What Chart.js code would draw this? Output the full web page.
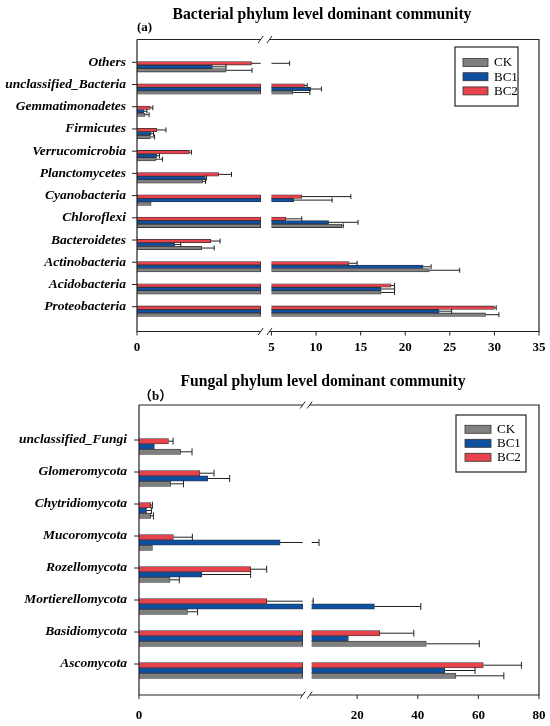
<!DOCTYPE html>
<html>
<head>
<meta charset="utf-8">
<script src="https://cdn.jsdelivr.net/npm/chart.js@4.4.1/dist/chart.umd.min.js"></script>
<style>
  html, body { margin: 0; padding: 0; background: #fff; overflow: hidden; }
  #wrap { position: relative; width: 550px; height: 726px; }
  .panel { position: absolute; left: 0; }
  canvas { display: block; }
</style>
</head>
<body>
<div id="wrap">
  <div class="panel" style="top:0"><canvas id="chartA" width="550" height="365"></canvas></div>
  <div class="panel" style="top:365px"><canvas id="chartB" width="550" height="361"></canvas></div>
</div>
<script>
const SERIF = '"Liberation Serif", "Times New Roman", "Noto Sans CJK SC", serif';

const seriesNames = ['CK', 'BC1', 'BC2'];
const seriesColors = ['#808080', '#0e4f9f', '#e8434d'];

// (a) bacteria, relative abundance (%)
const bactCategories = ['Others', 'unclassified_Bacteria', 'Gemmatimonadetes', 'Firmicutes',
    'Verrucomicrobia', 'Planctomycetes', 'Cyanobacteria', 'Chloroflexi', 'Bacteroidetes',
    'Actinobacteria', 'Acidobacteria', 'Proteobacteria'];
const bactCK = [3.6, 7.4, 0.32, 0.54, 0.75, 2.65, 0.57, 12.9, 2.62, 22.7, 17.3, 29.0];
const bactCKErr = [1.05, 1.9, 0.17, 0.17, 0.28, 0.12, 0, 0.15, 0.5, 3.4, 1.5, 1.5];
const bactBC1 = [3.05, 9.4, 0.28, 0.57, 0.81, 2.76, 7.5, 11.4, 1.52, 22.0, 17.3, 23.8];
const bactBC1Err = [0.55, 1.2, 0.12, 0.1, 0.1, 0.05, 4.3, 3.3, 0.25, 0.9, 1.5, 1.4];
const bactBC2 = [4.63, 8.7, 0.54, 0.81, 2.12, 3.3, 8.4, 6.6, 2.98, 13.7, 18.4, 30.0];
const bactBC2Err = [2.4, 0.3, 0.1, 0.36, 0.08, 0.52, 5.5, 1.8, 0.38, 0.9, 0.4, 0.2];
const bactTicksLeft = [0];
const bactTicksRight = [5, 10, 15, 20, 25, 30, 35];

// (b) fungi
const fungCategories = ['unclassified_Fungi', 'Glomeromycota', 'Chytridiomycota', 'Mucoromycota',
    'Rozellomycota', 'Mortierellomycota', 'Basidiomycota', 'Ascomycota'];
const fungCK = [1.27, 0.97, 0.36, 0.41, 0.95, 1.48, 42.8, 52.6];
const fungCKErr = [0.35, 0.39, 0.08, 0, 0.28, 0.31, 17.5, 15.8];
const fungBC1 = [0.47, 2.10, 0.23, 4.31, 1.92, 25.7, 17.1, 48.9];
const fungBC1Err = [0, 0.67, 0.15, 3.1, 1.49, 15.3, 0, 10.0];
const fungBC2 = [0.90, 1.86, 0.36, 1.05, 3.41, 3.9, 27.5, 61.6];
const fungBC2Err = [0.14, 0.43, 0.05, 0.58, 0.49, 1.6, 11.2, 12.6];
const fungTicksLeft = [0];
const fungTicksRight = [20, 40, 60, 80];

// bars drawn top to bottom: BC2, BC1, CK
const drawOrder = [2, 1, 0];

function decorPlugin(p) {
    return {
        id: 'decor',
        afterDatasetsDraw(chart) {
            const ctx = chart.ctx;
            const area = chart.chartArea;
            const xL = chart.scales.xL, xR = chart.scales.xR, y = chart.scales.y;
            const L = xL.getPixelForValue(p.breakAt);
            const R = xR.left;
            const px = v => v <= p.breakAt ? xL.getPixelForValue(v) : xR.getPixelForValue(v);

            ctx.save();
            // error bars (one-sided)
            ctx.strokeStyle = '#222';
            ctx.lineWidth = 1;
            drawOrder.forEach((s, k) => {
                const meta = chart.getDatasetMeta(k);
                p.values[s].forEach((v, j) => {
                    const e = p.errs[s][j];
                    if (!e) return;
                    const yy = meta.data[j].y;
                    const end = v + e;
                    ctx.beginPath();
                    if (v < p.breakAt && end > p.breakAt) {
                        ctx.moveTo(px(v), yy);
                        ctx.lineTo(L, yy);
                        ctx.moveTo(R, yy);
                        ctx.lineTo(xR.getPixelForValue(end), yy);
                    } else {
                        ctx.moveTo(px(v), yy);
                        ctx.lineTo(px(end), yy);
                    }
                    const xe = px(end);
                    ctx.moveTo(xe, yy - p.cap / 2);
                    ctx.lineTo(xe, yy + p.cap / 2);
                    ctx.stroke();
                });
            });

            // frame with axis break
            const ft = p.frameTop, fb = p.frameBottom;
            ctx.strokeStyle = '#222';
            ctx.lineWidth = 1.2;
            ctx.beginPath();
            ctx.moveTo(area.left, ft); ctx.lineTo(L, ft);
            ctx.moveTo(R - 2, ft); ctx.lineTo(area.right, ft);
            ctx.lineTo(area.right, fb);
            ctx.lineTo(R - 2, fb);
            ctx.moveTo(L, fb); ctx.lineTo(area.left, fb);
            ctx.lineTo(area.left, ft);
            ctx.stroke();
            ctx.lineWidth = 1;
            ctx.beginPath();
            [ft, fb].forEach(yy => {
                ctx.moveTo(L - 2.5, yy + 3.5); ctx.lineTo(L + 2.5, yy - 3.5);
                ctx.moveTo(R - 4.5, yy + 3.5); ctx.lineTo(R + 0.5, yy - 3.5);
            });
            // tick marks
            [xL, xR].forEach(sc => sc.ticks.forEach(t => {
                const x = sc.getPixelForValue(t.value);
                ctx.moveTo(x, fb); ctx.lineTo(x, fb + 4);
            }));
            y.ticks.forEach((t, i) => {
                const yy = y.getPixelForTick(i) - p.labelShift;
                ctx.moveTo(area.left - 5, yy); ctx.lineTo(area.left, yy);
            });
            ctx.stroke();

            // titles
            ctx.fillStyle = '#000';
            ctx.textBaseline = 'middle';
            ctx.textAlign = 'center';
            ctx.font = 'bold 15.7px ' + SERIF;
            ctx.fillText(p.title, p.titleX, p.titleY);
            ctx.textAlign = 'left';
            ctx.font = 'bold 13px ' + SERIF;
            ctx.fillText(p.tag, area.left, p.tagY);

            // legend
            const lg = p.legend;
            ctx.strokeStyle = '#333';
            ctx.lineWidth = 1.3;
            ctx.strokeRect(lg.x, lg.y, lg.w, lg.h);
            ctx.font = '13px ' + SERIF;
            seriesNames.forEach((name, i) => {
                const cy = lg.row0 + i * lg.rowGap;
                ctx.fillStyle = seriesColors[i];
                ctx.fillRect(lg.sx, cy - 4, lg.sw, 8);
                ctx.strokeStyle = '#333';
                ctx.lineWidth = 0.8;
                ctx.strokeRect(lg.sx, cy - 4, lg.sw, 8);
                ctx.fillStyle = '#000';
                ctx.fillText(name, lg.sx + lg.sw + 6, cy + 0.5);
            });
            ctx.restore();
        }
    };
}

function buildPanel(canvasId, p) {
    const leftMax = p.breakAt * (p.rightStartPx - p.leftPx) / (p.breakPx - p.leftPx);
    const datasets = [];
    drawOrder.forEach(s => datasets.push({
        label: seriesNames[s],
        data: p.values[s].map(v => Math.min(v, p.breakAt)),
        xAxisID: 'xL', stack: seriesNames[s],
        backgroundColor: seriesColors[s], borderColor: '#333', borderWidth: 0.8,
        barThickness: p.barThickness
    }));
    drawOrder.forEach(s => datasets.push({
        label: seriesNames[s],
        data: p.values[s].map(v => v > p.breakAt ? v : null),
        xAxisID: 'xR', stack: seriesNames[s],
        backgroundColor: seriesColors[s], borderColor: '#333', borderWidth: 0.8,
        barThickness: p.barThickness
    }));

    const tickFont = { family: SERIF, size: 13, weight: 'bold' };
    const H = p.height;
    // keep the label overhang from shrinking the plot area
    const fitX = s => { s.height = p.xAxisH; s.paddingLeft = 0; s.paddingRight = 0; };

    new Chart(document.getElementById(canvasId), {
        type: 'bar',
        data: { labels: p.categories, datasets: datasets },
        options: {
            indexAxis: 'y',
            responsive: false,
            animation: false,
            layout: {
                padding: { top: p.areaTop, bottom: H - p.areaBottom - p.xAxisH, left: 0, right: 550 - p.rightEdge }
            },
            plugins: { legend: { display: false }, tooltip: { enabled: false } },
            scales: {
                y: {
                    type: 'category',
                    offset: true,
                    grid: { display: false, drawTicks: false },
                    border: { display: false },
                    ticks: {
                        autoSkip: false,
                        color: '#000',
                        padding: p.yPad,
                        labelOffset: -p.labelShift,
                        font: { family: SERIF, size: p.yFont, weight: 'bold', style: 'italic' }
                    },
                    afterFit: s => { s.width = p.leftPx; }
                },
                xL: {
                    type: 'linear', position: 'bottom', stack: 'xb',
                    stackWeight: p.rightStartPx - p.leftPx,
                    min: 0, max: leftMax, stacked: false,
                    grid: { display: false, drawTicks: false },
                    border: { display: false },
                    ticks: { color: '#000', padding: p.xPad, font: tickFont, maxRotation: 0 },
                    afterBuildTicks: s => { s.ticks = p.ticksLeft.map(v => ({ value: v })); },
                    afterFit: fitX
                },
                xR: {
                    type: 'linear', position: 'bottom', stack: 'xb',
                    stackWeight: p.rightEdge - p.rightStartPx,
                    min: p.breakAt, max: p.rightMax, stacked: false,
                    grid: { display: false, drawTicks: false },
                    border: { display: false },
                    ticks: { color: '#000', padding: p.xPad, font: tickFont, maxRotation: 0 },
                    afterBuildTicks: s => { s.ticks = p.ticksRight.map(v => ({ value: v })); },
                    afterFit: fitX
                }
            }
        },
        plugins: [decorPlugin(p)]
    });
}

buildPanel('chartA', {
    height: 365,
    title: 'Bacterial phylum level dominant community', titleX: 322, titleY: 15,
    tag: '(a)', tagY: 28,
    categories: bactCategories,
    values: [bactCK, bactBC1, bactBC2],
    errs: [bactCKErr, bactBC1Err, bactBC2Err],
    ticksLeft: bactTicksLeft, ticksRight: bactTicksRight,
    breakAt: 5, rightMax: 35,
    leftPx: 137, breakPx: 260.7, rightStartPx: 271.5, rightEdge: 539,
    areaTop: 55.7, areaBottom: 322.3, xAxisH: 40, xPad: 18,
    frameTop: 39.5, frameBottom: 331.5,
    barThickness: 3.5, labelShift: 4.5, cap: 5, yPad: 11, yFont: 13.5,
    legend: { x: 455, y: 47, w: 63, h: 59, sx: 463, sw: 25, row0: 62.5, rowGap: 14.2 }
});

buildPanel('chartB', {
    height: 361,
    title: 'Fungal phylum level dominant community', titleX: 323, titleY: 17,
    tag: '（b）', tagY: 32,
    categories: fungCategories,
    values: [fungCK, fungBC1, fungBC2],
    errs: [fungCKErr, fungBC1Err, fungBC2Err],
    ticksLeft: fungTicksLeft, ticksRight: fungTicksRight,
    breakAt: 5, rightMax: 80,
    leftPx: 139, breakPx: 302.7, rightStartPx: 311.7, rightEdge: 539,
    areaTop: 65.5, areaBottom: 321.5, xAxisH: 39, xPad: 21,
    frameTop: 40, frameBottom: 330,
    barThickness: 5.3, labelShift: 6.5, cap: 7, yPad: 12, yFont: 13.5,
    legend: { x: 456, y: 50, w: 70, h: 57, sx: 465, sw: 26, row0: 64.3, rowGap: 14 }
});
</script>
</body>
</html>
